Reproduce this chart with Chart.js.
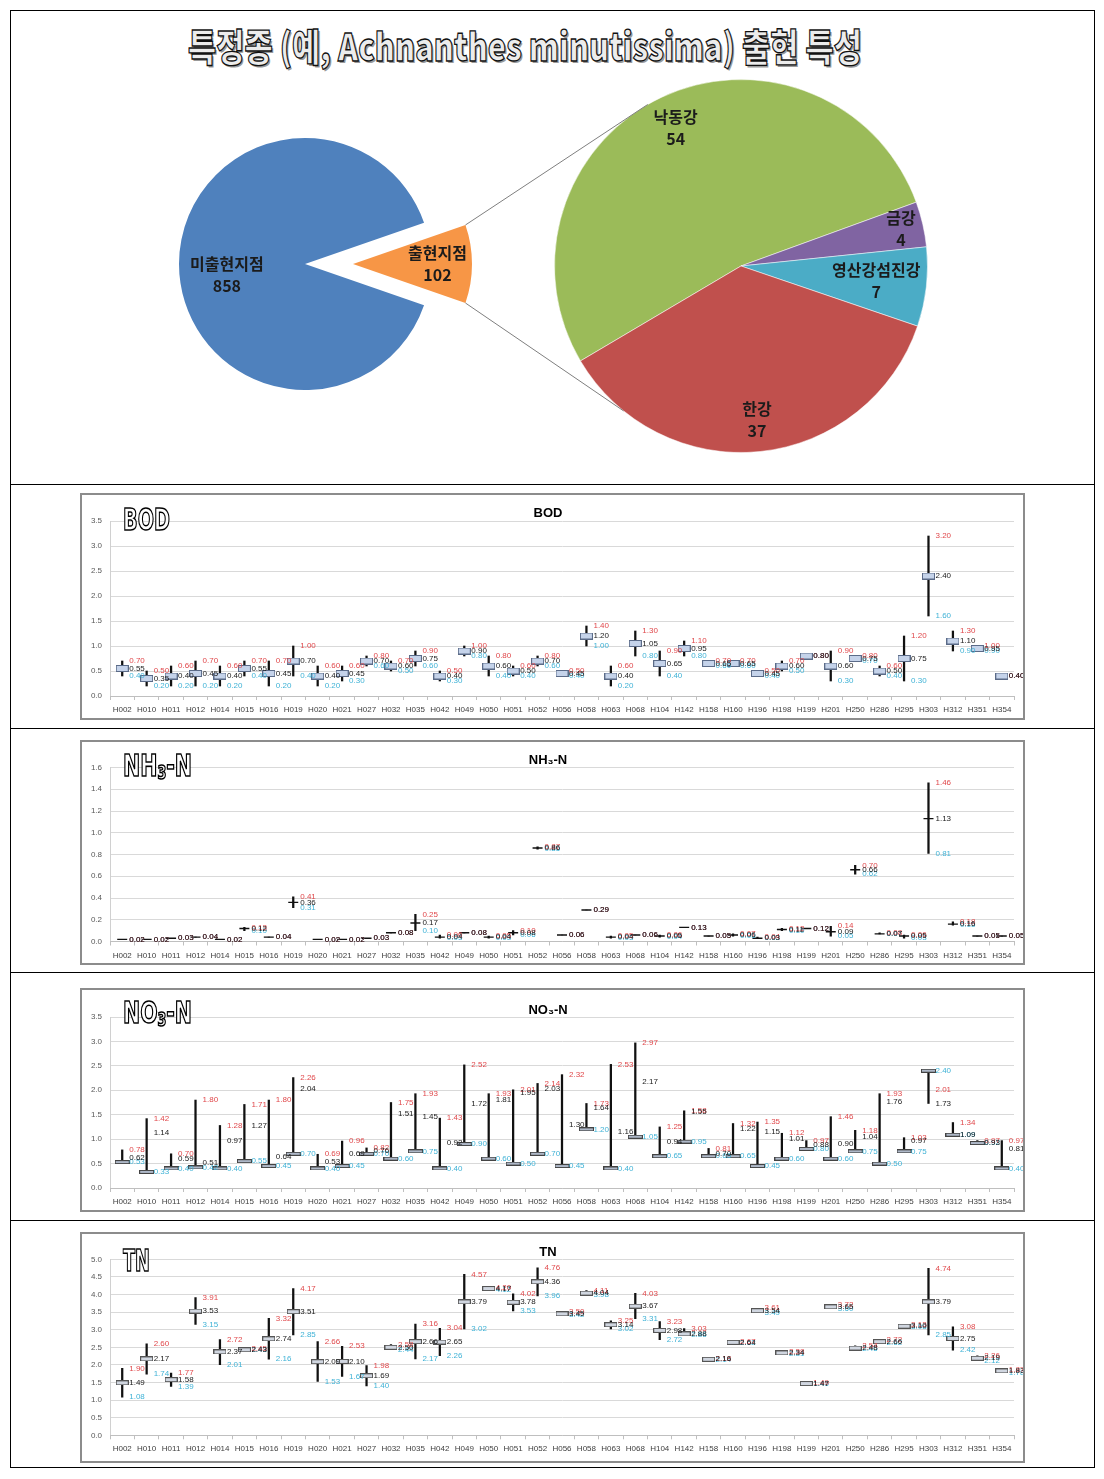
<!DOCTYPE html>
<html>
<head>
<meta charset="utf-8">
<script src="https://cdn.jsdelivr.net/npm/chart.js@4.4.0/dist/chart.umd.min.js"></script>
<style>
body { margin: 0; background: #fff; width: 1104px; height: 1479px; position: relative; overflow: hidden; }
canvas, .abs { position: absolute; }
#outer { left: 10px; top: 10px; width: 1085px; height: 1458px; border: 1px solid #000; box-sizing: border-box; }
.sep { position: absolute; left: 10px; width: 1085px; border-top: 1px solid #000; }
.frame { position: absolute; left: 80px; width: 945px; border: 2px solid #8c8c8c; box-sizing: border-box; }
.logo { position: absolute; font-family: "Liberation Sans Narrow", "DejaVu Sans Condensed", sans-serif; font-weight: bold;
        font-size: 30px; line-height: 1; color: #fff; -webkit-text-stroke: 1.5px #000; white-space: nowrap; transform-origin: 0 0; }
.logo sub { font-size: 0.62em; vertical-align: -0.18em; }
#title { position: absolute; left: 188px; top: 26px; font-family: "Noto Sans CJK KR", sans-serif; font-weight: 900; font-size: 38px;
         line-height: 1; color: #ececec; -webkit-text-stroke: 1.3px #111; text-shadow: 2px 2px 0 #9a9a9a; white-space: nowrap; transform-origin: 0 0; }
</style>
</head>
<body>
<div id="outer" class="abs"></div>
<div class="sep" style="top:484px"></div>
<div class="sep" style="top:728px"></div>
<div class="sep" style="top:972px"></div>
<div class="sep" style="top:1220px"></div>

<div id="title" data-w="674">특정종 (예, Achnanthes minutissima) 출현 특성</div>
<canvas id="pieMain" width="252" height="252" style="left:179px;top:138px"></canvas>
<canvas id="pieSlice" width="238" height="238" style="left:234px;top:145px"></canvas>
<canvas id="pieSub" width="414" height="414" style="left:534px;top:59px"></canvas>
<canvas id="links" width="1104" height="480" style="left:0;top:0"></canvas>

<div class="frame" style="top:493px;height:227px"></div>
<canvas id="bod" width="941" height="223" style="left:82px;top:495px"></canvas>
<div class="logo" data-w="47" style="left:123px;top:505px">BOD</div>

<div class="frame" style="top:740px;height:225px"></div>
<canvas id="nh3" width="941" height="221" style="left:82px;top:742px"></canvas>
<div class="logo" data-w="69" style="left:123px;top:751px">NH<sub>3</sub>-N</div>

<div class="frame" style="top:988px;height:224px"></div>
<canvas id="no3" width="941" height="220" style="left:82px;top:990px"></canvas>
<div class="logo" data-w="69" style="left:123px;top:998px">NO<sub>3</sub>-N</div>

<div class="frame" style="top:1232px;height:231px"></div>
<canvas id="tn" width="941" height="227" style="left:82px;top:1234px"></canvas>
<div class="logo" data-w="27" style="left:123px;top:1246px">TN</div>

<script>
// 출현지점 / 미출현지점
const mainLabels = ['출현지점', '미출현지점'];
const mainValues = [102, 858];
const mainColors = ['#f79646', '#4f81bd'];

// 출현지점 수계별
const subLabels = ['낙동강', '금강', '영산강섬진강', '한강'];
const subValues = [54, 4, 7, 37];
const subColors = ['#9bbb59', '#8064a2', '#4bacc6', '#c0504d'];

const stations = ['H002', 'H010', 'H011', 'H012', 'H014', 'H015', 'H016', 'H019', 'H020', 'H021', 'H027', 'H032',
  'H035', 'H042', 'H049', 'H050', 'H051', 'H052', 'H056', 'H058', 'H063', 'H068', 'H104', 'H142', 'H158', 'H160',
  'H196', 'H198', 'H199', 'H201', 'H250', 'H286', 'H295', 'H303', 'H312', 'H351', 'H354'];

// BOD
const bodMax = [0.70, 0.50, 0.60, 0.70, 0.60, 0.70, 0.70, 1.00, 0.60, 0.60, 0.80, 0.70, 0.90, 0.50, 1.00, 0.80, 0.60, 0.80,
  0.50, 1.40, 0.60, 1.30, 0.90, 1.10, 0.70, 0.70, 0.50, 0.70, 0.80, 0.90, 0.80, 0.60, 1.20, 3.20, 1.30, 1.00, 0.40];
const bodMed = [0.55, 0.35, 0.40, 0.45, 0.40, 0.55, 0.45, 0.70, 0.40, 0.45, 0.70, 0.60, 0.75, 0.40, 0.90, 0.60, 0.50, 0.70,
  0.45, 1.20, 0.40, 1.05, 0.65, 0.95, 0.65, 0.65, 0.45, 0.60, 0.80, 0.60, 0.75, 0.50, 0.75, 2.40, 1.10, 0.95, 0.40];
const bodMin = [0.40, 0.20, 0.20, 0.20, 0.20, 0.40, 0.20, 0.40, 0.20, 0.30, 0.60, 0.50, 0.60, 0.30, 0.80, 0.40, 0.40, 0.60,
  0.40, 1.00, 0.20, 0.80, 0.40, 0.80, 0.60, 0.60, 0.40, 0.50, 0.80, 0.30, 0.70, 0.40, 0.30, 1.60, 0.90, 0.90, 0.40];

// NH3-N
const nh3Max = [0.02, 0.02, 0.03, 0.04, 0.02, 0.13, 0.04, 0.41, 0.02, 0.02, 0.03, 0.08, 0.25, 0.06, 0.08, 0.05, 0.10, 0.87,
  0.06, 0.29, 0.05, 0.06, 0.06, 0.13, 0.05, 0.07, 0.04, 0.12, 0.12, 0.14, 0.70, 0.08, 0.06, 1.46, 0.18, 0.05, 0.05];
const nh3Med = [0.02, 0.02, 0.03, 0.04, 0.02, 0.12, 0.04, 0.36, 0.02, 0.02, 0.03, 0.08, 0.17, 0.04, 0.08, 0.04, 0.08, 0.86,
  0.06, 0.29, 0.04, 0.06, 0.05, 0.13, 0.05, 0.06, 0.03, 0.11, 0.12, 0.09, 0.66, 0.07, 0.05, 1.13, 0.16, 0.05, 0.05];
const nh3Min = [0.02, 0.02, 0.03, 0.04, 0.02, 0.10, 0.04, 0.31, 0.02, 0.02, 0.03, 0.08, 0.10, 0.03, 0.08, 0.03, 0.06, 0.85,
  0.06, 0.29, 0.03, 0.06, 0.04, 0.13, 0.05, 0.05, 0.03, 0.10, 0.12, 0.05, 0.62, 0.07, 0.03, 0.81, 0.15, 0.05, 0.05];

// NO3-N
const no3Max = [0.78, 1.42, 0.70, 1.80, 1.28, 1.71, 1.80, 2.26, 0.69, 0.96, 0.82, 1.75, 1.93, 1.43, 2.52, 1.93, 2.01, 2.14,
  2.32, 1.73, 2.53, 2.97, 1.25, 1.58, 0.81, 1.32, 1.35, 1.12, 0.97, 1.46, 1.18, 1.93, 1.03, 2.01, 1.34, 0.97, 0.97];
const no3Med = [0.62, 1.14, 0.59, 0.51, 0.97, 1.27, 0.64, 2.04, 0.53, 0.69, 0.76, 1.51, 1.45, 0.92, 1.72, 1.81, 1.95, 2.03,
  1.30, 1.64, 1.16, 2.17, 0.94, 1.55, 0.70, 1.22, 1.15, 1.01, 0.88, 0.90, 1.04, 1.76, 0.97, 1.73, 1.09, 0.93, 0.81];
const no3Min = [0.53, 0.33, 0.40, 0.42, 0.40, 0.55, 0.45, 0.70, 0.40, 0.45, 0.70, 0.60, 0.75, 0.40, 0.90, 0.60, 0.50, 0.70,
  0.45, 1.20, 0.40, 1.05, 0.65, 0.95, 0.65, 0.65, 0.45, 0.60, 0.80, 0.60, 0.75, 0.50, 0.75, 2.40, 1.09, 0.92, 0.40];

// TN
const tnMax = [1.90, 2.60, 1.77, 3.91, 2.72, 2.45, 3.32, 4.17, 2.66, 2.53, 1.98, 2.58, 3.16, 3.04, 4.57, 4.20, 4.02, 4.76,
  3.50, 4.11, 3.25, 4.03, 3.23, 3.03, 2.18, 2.67, 3.61, 2.38, 1.49, 3.72, 2.54, 2.72, 3.13, 4.74, 3.08, 2.26, 1.87];
const tnMed = [1.49, 2.17, 1.58, 3.53, 2.37, 2.43, 2.74, 3.51, 2.09, 2.10, 1.69, 2.50, 2.66, 2.65, 3.79, 4.17, 3.78, 4.36,
  3.45, 4.04, 3.14, 3.67, 2.98, 2.88, 2.16, 2.64, 3.54, 2.34, 1.47, 3.65, 2.48, 2.66, 3.10, 3.79, 2.75, 2.19, 1.83];
const tnMin = [1.08, 1.74, 1.39, 3.15, 2.01, 2.43, 2.16, 2.85, 1.53, 1.67, 1.40, 2.44, 2.17, 2.26, 3.02, 4.12, 3.53, 3.96,
  3.42, 3.98, 3.02, 3.31, 2.72, 2.86, 2.14, 2.62, 3.49, 2.31, 1.45, 3.60, 2.45, 2.62, 3.08, 2.85, 2.42, 2.12, 1.78];

Chart.defaults.font.family = '"Liberation Sans", Arial, sans-serif';
Chart.defaults.animation = false;

// 글자 폭 맞추기 (제목, 로고)
document.querySelectorAll('[data-w]').forEach(el => {
  const w = el.getBoundingClientRect().width;
  el.style.transform = 'scaleX(' + (el.dataset.w / w) + ')';
});

// 파이 라벨
function pieLabels(show, ratios, shift) {
  return {
    id: 'pieLabels',
    afterDatasetsDraw(chart) {
      const ctx = chart.ctx;
      const arcs = chart.getDatasetMeta(0).data;
      const labels = chart.data.labels;
      const values = chart.data.datasets[0].data;
      ctx.save();
      ctx.font = 'bold 16px "Noto Sans CJK KR", sans-serif';
      ctx.fillStyle = '#1b1b1b';
      ctx.textAlign = 'center';
      ctx.textBaseline = 'middle';
      arcs.forEach((arc, i) => {
        if (!show.includes(i)) return;
        const mid = (arc.startAngle + arc.endAngle) / 2;
        const r = arc.outerRadius * ratios[i];
        const x = arc.x + Math.cos(mid) * r;
        const y = arc.y + Math.sin(mid) * r + (shift[i] || 0);
        ctx.fillText(labels[i], x, y - 11);
        ctx.fillText(String(values[i]), x, y + 11);
      });
      ctx.restore();
    }
  };
}

const mainTotal = mainValues.reduce((a, b) => a + b, 0);
const mainRotation = 90 - (mainValues[0] / mainTotal) * 180;

function mainPie(id, visible) {
  return new Chart(document.getElementById(id), {
    type: 'pie',
    data: {
      labels: mainLabels,
      datasets: [{
        data: mainValues,
        backgroundColor: mainColors.map((c, i) => i === visible ? c : 'rgba(0,0,0,0)'),
        borderWidth: 0
      }]
    },
    options: {
      responsive: false,
      rotation: mainRotation,
      plugins: { legend: { display: false }, tooltip: { enabled: false } }
    },
    plugins: [pieLabels([visible], [0.71, 0.62], [0, 11])]
  });
}

const blueChart = mainPie('pieMain', 1);
const orangeChart = mainPie('pieSlice', 0);

const subChart = new Chart(document.getElementById('pieSub'), {
  type: 'pie',
  data: {
    labels: subLabels,
    datasets: [{ data: subValues, backgroundColor: subColors, borderWidth: 1, borderColor: 'rgba(255,255,255,0.5)' }]
  },
  options: {
    responsive: false,
    rotation: 239.4,
    layout: { padding: 20 },
    plugins: { legend: { display: false }, tooltip: { enabled: false } }
  },
  plugins: [pieLabels([0, 1, 2, 3], [0.82, 0.88, 0.73, 0.83], [0, 0, 0, 0])]
});

// 연결선
(function drawLinks() {
  const g = document.getElementById('links').getContext('2d');
  const sl = orangeChart.getDatasetMeta(0).data[0];
  const sc = orangeChart.canvas;
  const ox = sc.offsetLeft + sl.x, oy = sc.offsetTop + sl.y, R = sl.outerRadius;
  const big = subChart.getDatasetMeta(0).data[0];
  const bc = subChart.canvas;
  const bx = bc.offsetLeft + big.x, by = bc.offsetTop + big.y, BR = big.outerRadius;
  const topA = 240 * Math.PI / 180, botA = 129 * Math.PI / 180;
  g.strokeStyle = '#7f7f7f';
  g.lineWidth = 1;
  g.beginPath();
  g.moveTo(ox + R * Math.cos(sl.startAngle), oy + R * Math.sin(sl.startAngle));
  g.lineTo(bx + BR * Math.cos(topA), by + BR * Math.sin(topA));
  g.moveTo(ox + R * Math.cos(sl.endAngle), oy + R * Math.sin(sl.endAngle));
  g.lineTo(bx + BR * Math.cos(botA), by + BR * Math.sin(botA));
  g.stroke();
})();

// 박스 모양
function makeBox(w, h, fill, stroke) {
  const c = document.createElement('canvas');
  c.width = w;
  c.height = h;
  const g = c.getContext('2d');
  g.fillStyle = fill;
  g.fillRect(0, 0, w, h);
  g.strokeStyle = stroke;
  g.lineWidth = 1;
  g.strokeRect(0.5, 0.5, w - 1, h - 1);
  return c;
}

// 값 라벨 (최소 - 최대 - 중앙값 순으로 그림)
function valueLabels(maxV, medV, minV) {
  return {
    id: 'valueLabels',
    afterDatasetsDraw(chart) {
      const { ctx, scales: { x, y } } = chart;
      ctx.save();
      ctx.font = '8px "Liberation Sans", Arial, sans-serif';
      ctx.textBaseline = 'middle';
      [[minV, '#3fb2d6'], [maxV, '#e0484b'], [medV, '#1a1a1a']].forEach(([vals, color]) => {
        ctx.fillStyle = color;
        vals.forEach((v, i) => ctx.fillText(v.toFixed(2), x.getPixelForValue(i) + 7, y.getPixelForValue(v)));
      });
      ctx.restore();
    }
  };
}

function rangeChart(id, cfg) {
  const ranges = stations.map((s, i) => [
    Math.min(cfg.maxV[i], cfg.medV[i], cfg.minV[i]),
    Math.max(cfg.maxV[i], cfg.medV[i], cfg.minV[i])
  ]);
  const boxDs = { type: 'line', data: cfg.boxV, showLine: false, pointStyle: cfg.box, pointRadius: 5,
    pointBorderColor: '#111', pointBackgroundColor: '#111', pointBorderWidth: 1.4 };
  return new Chart(document.getElementById(id), {
    type: 'bar',
    data: {
      labels: stations,
      datasets: [boxDs, { data: ranges, backgroundColor: '#111', barThickness: 1.6, borderSkipped: false }]
    },
    options: {
      responsive: false,
      layout: { padding: { left: 0, right: 9, top: 0, bottom: 0 } },
      plugins: {
        legend: { display: false },
        tooltip: { enabled: false },
        title: {
          display: true, text: cfg.title, color: '#000',
          font: { size: 13, weight: 'bold' },
          padding: { top: cfg.titleY - 7.8, bottom: cfg.padTop - cfg.titleY - 7.8 }
        }
      },
      scales: {
        y: {
          min: 0, max: cfg.yMax,
          ticks: { stepSize: cfg.step, callback: v => v.toFixed(1), font: { size: 8 }, color: '#595959', padding: 8 },
          grid: { color: '#d9d9d9', drawTicks: false },
          border: { color: '#d0d0d0' },
          afterFit: s => { s.width = 28; }
        },
        x: {
          ticks: { font: { size: 8 }, color: '#404040', maxRotation: 0, autoSkip: false, padding: 5 },
          grid: { drawOnChartArea: false, tickLength: 4, color: '#bfbfbf', offset: true },
          border: { color: '#bfbfbf' },
          afterFit: s => { s.height = cfg.axisH; }
        }
      }
    },
    plugins: [valueLabels(cfg.maxV, cfg.medV, cfg.minV)]
  });
}

rangeChart('bod', { title: 'BOD', maxV: bodMax, medV: bodMed, minV: bodMin, boxV: bodMed,
  box: makeBox(13, 7, '#c5d3ea', '#5b6b88'), yMax: 3.5, step: 0.5, titleY: 18, padTop: 26, axisH: 22 });
rangeChart('nh3', { title: 'NH\u2083-N', maxV: nh3Max, medV: nh3Med, minV: nh3Min, boxV: nh3Med,
  box: 'line', yMax: 1.6, step: 0.2, titleY: 18, padTop: 25.5, axisH: 21.5 });
rangeChart('no3', { title: 'NO\u2083-N', maxV: no3Max, medV: no3Med, minV: no3Min, boxV: no3Min,
  box: makeBox(15, 4, '#aeb8c8', '#444'), yMax: 3.5, step: 0.5, titleY: 20, padTop: 27, axisH: 22 });
rangeChart('tn', { title: 'TN', maxV: tnMax, medV: tnMed, minV: tnMin, boxV: tnMed,
  box: makeBox(13, 5, '#d0d6e0', '#555'), yMax: 5.0, step: 0.5, titleY: 18, padTop: 25.3, axisH: 25.7 });
</script>
</body>
</html>
